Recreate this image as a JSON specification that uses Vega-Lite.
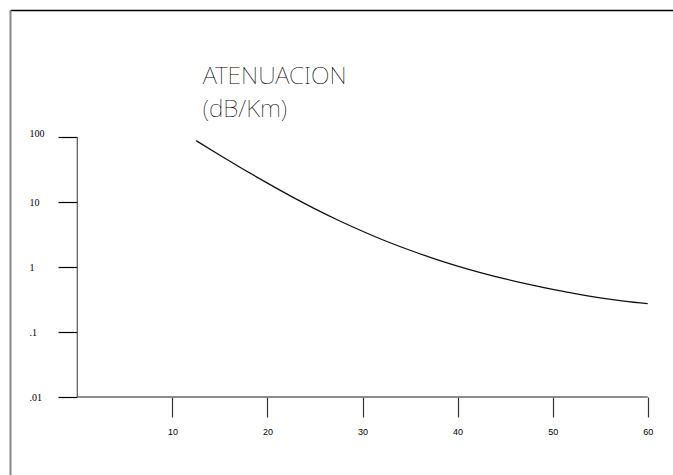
{
  "$schema": "https://vega.github.io/schema/vega-lite/v6.json",
  "width": 663,
  "height": 465,
  "autosize": {"type": "none"},
  "padding": {"left": 10, "top": 10, "right": 0, "bottom": 0},
  "background": "white",
  "config": {"view": {"stroke": null}},
  "layer": [
    {
      "encoding": {
        "x": {
          "field": "x",
          "type": "quantitative",
          "scale": {"domain": [-7.08, 62.66], "nice": false, "zero": false},
          "axis": {
            "orient": "bottom",
            "offset": -78,
            "values": [10, 20, 30, 40, 50, 60],
            "domain": false,
            "grid": false,
            "tickSize": 20,
            "tickColor": "#333333",
            "tickWidth": 1.2,
            "labelPadding": 10,
            "labelFont": "Liberation Sans",
            "labelFontSize": 9,
            "labelColor": "#000000",
            "title": null
          }
        },
        "y": {
          "field": "y",
          "type": "quantitative",
          "scale": {"type": "log", "domain": [0.000631, 8993], "nice": false},
          "axis": {
            "orient": "left",
            "offset": -67,
            "values": [0.01, 0.1, 1, 10, 100],
            "labelExpr": "datum.value == 0.01 ? '.01' : datum.value == 0.1 ? '.1' : format(datum.value, 'd')",
            "domain": false,
            "grid": false,
            "tickSize": 19,
            "tickColor": "#000000",
            "tickWidth": 1.2,
            "labelAlign": "left",
            "labelBaseline": "middle",
            "labelOffset": {"condition": {"test": "datum.value == 100", "value": -4}, "value": 0},
            "labelPadding": 29,
            "labelFont": "Liberation Serif",
            "labelFontSize": 10,
            "labelColor": "#000000",
            "title": null
          }
        }
      },
      "layer": [
        {
          "data": {"values": [{"x": 0, "x2": 60, "y": 0.01}]},
          "mark": {"type": "rule", "color": "#666666", "strokeWidth": 1.5},
          "encoding": {"x2": {"field": "x2"}}
        },
        {
          "data": {"values": [{"x": 0, "y": 0.01, "y2": 100}]},
          "mark": {"type": "rule", "color": "#555555", "strokeWidth": 1.2},
          "encoding": {"y2": {"field": "y2"}}
        },
        {
          "data": {
            "values": [
              {"x": 12.5, "y": 87.9},
              {"x": 15.0, "y": 52.4},
              {"x": 17.5, "y": 31.7},
              {"x": 20.0, "y": 19.5},
              {"x": 22.5, "y": 12.2},
              {"x": 25.0, "y": 7.85},
              {"x": 27.5, "y": 5.20},
              {"x": 30.0, "y": 3.55},
              {"x": 32.5, "y": 2.49},
              {"x": 35.0, "y": 1.81},
              {"x": 37.5, "y": 1.35},
              {"x": 40.0, "y": 1.035},
              {"x": 42.5, "y": 0.815},
              {"x": 45.0, "y": 0.656},
              {"x": 47.5, "y": 0.540},
              {"x": 50.0, "y": 0.452},
              {"x": 52.5, "y": 0.385},
              {"x": 55.0, "y": 0.336},
              {"x": 57.5, "y": 0.299},
              {"x": 60.0, "y": 0.273}
            ]
          },
          "mark": {"type": "line", "color": "#111111", "strokeWidth": 1.3, "interpolate": "monotone"}
        }
      ]
    },
    {
      "data": {
        "values": [
          {"label": "ATENUACION\n(dB/Km)", "x": 13.2, "y": 653}
        ]
      },
      "mark": {
        "type": "text",
        "align": "left",
        "baseline": "alphabetic",
        "lineBreak": "\n",
        "lineHeight": 32.5,
        "font": "Noto Sans",
        "fontWeight": 100,
        "fontSize": 24.5,
        "color": "#000000"
      },
      "encoding": {
        "text": {"field": "label"},
        "x": {
          "field": "x",
          "type": "quantitative",
          "scale": {"domain": [-7.08, 62.66], "nice": false, "zero": false},
          "axis": {
            "orient": "top",
            "domain": true,
            "domainColor": "#000000",
            "domainWidth": 1.5,
            "ticks": false,
            "labels": false,
            "grid": false,
            "title": null
          }
        },
        "y": {
          "field": "y",
          "type": "quantitative",
          "scale": {"type": "log", "domain": [0.000631, 8993], "nice": false},
          "axis": {
            "orient": "left",
            "domain": true,
            "domainColor": "#888888",
            "domainWidth": 2,
            "ticks": false,
            "labels": false,
            "grid": false,
            "title": null
          }
        }
      }
    }
  ],
  "resolve": {
    "scale": {"x": "independent", "y": "independent"},
    "axis": {"x": "independent", "y": "independent"}
  }
}
